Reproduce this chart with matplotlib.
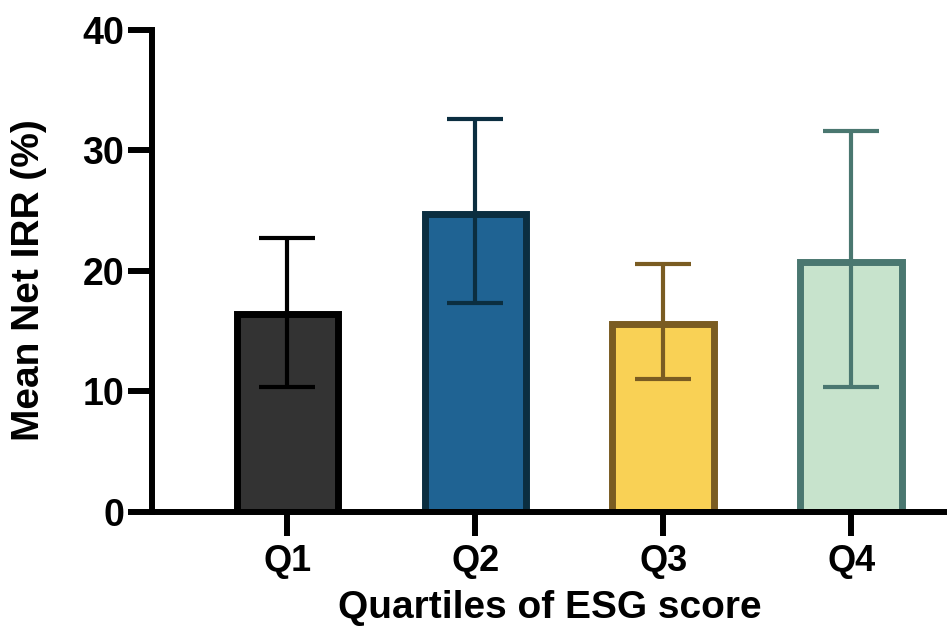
import matplotlib
matplotlib.use("Agg")
import matplotlib.pyplot as plt
import numpy as np

# data
quartiles = ["Q1", "Q2", "Q3", "Q4"]
mean_irr = [16.4, 24.7, 15.6, 20.7]
err_low = [10.4, 17.3, 11.0, 10.4]
err_high = [22.7, 32.6, 20.6, 31.6]

fill_colors = ["#333333", "#1F6393", "#F9D155", "#C7E3CC"]
edge_colors = ["#000000", "#0B2E40", "#7A5C22", "#4A7770"]

plt.rcParams["font.family"] = ["Liberation Sans", "DejaVu Sans"]
plt.rcParams["font.weight"] = "bold"

fig = plt.figure(figsize=(9.47, 6.36), dpi=100)
ax = fig.add_axes([0.1605, 0.195, 0.8395, 0.758])

x = np.arange(len(quartiles))
ax.bar(x, mean_irr, width=0.54, color=fill_colors, edgecolor=edge_colors,
       linewidth=5, zorder=2)

for i in range(len(x)):
    lo = mean_irr[i] - err_low[i]
    hi = err_high[i] - mean_irr[i]
    ax.errorbar(x[i], mean_irr[i], yerr=[[lo], [hi]], fmt="none",
                ecolor=edge_colors[i], elinewidth=3, capsize=20, capthick=3,
                zorder=3)

ax.set_xlim(-0.72, 3.51)
ax.set_ylim(0, 40)
ax.set_yticks([0, 10, 20, 30, 40])
ax.set_xticks(x)
ax.set_xticklabels(quartiles)

for side in ["top", "right"]:
    ax.spines[side].set_visible(False)
for side in ["left", "bottom"]:
    ax.spines[side].set_linewidth(4.3)
ax.spines["bottom"].set_zorder(4)

ax.tick_params(axis="both", width=4.3, length=17)
ax.tick_params(axis="y", labelsize=27, pad=3)
ax.tick_params(axis="x", labelsize=26, pad=6)

ax.set_xlabel("Quartiles of ESG score", fontsize=28, fontweight="bold", labelpad=8)
ax.set_ylabel("Mean Net IRR (%)", fontsize=28, fontweight="bold")
ax.yaxis.set_label_coords(-0.132, 0.48)

fig.savefig("out.png", dpi=100)
